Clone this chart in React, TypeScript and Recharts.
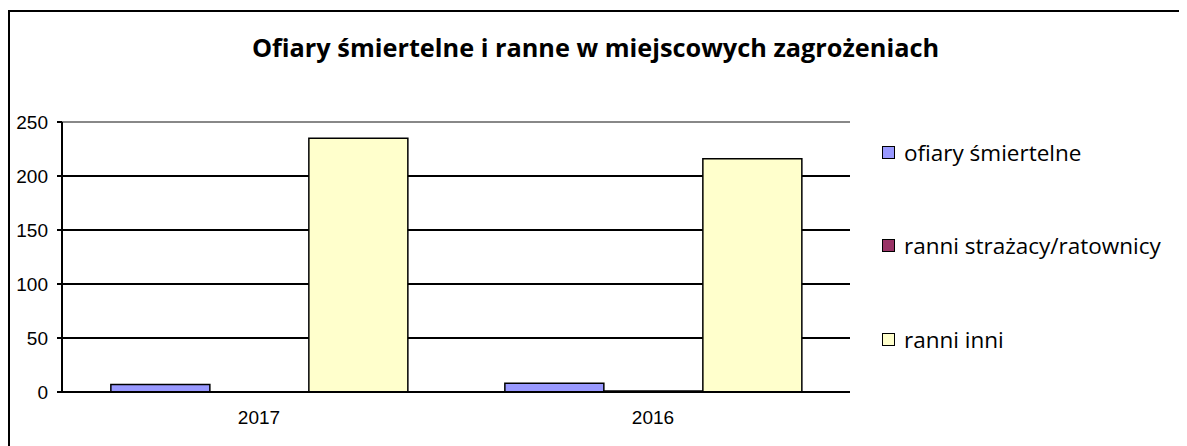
import {
  BarChart,
  Bar,
  XAxis,
  YAxis,
  CartesianGrid,
  ReferenceLine,
} from "recharts";

const years = ["2017", "2016"];
const ofiarySmiertelne = [7, 8];
const ranniStrazacy = [0, 1];
const ranniInni = [235, 216];
const yTicks = [0, 50, 100, 150, 200, 250];

const series = [
  { key: "ofiary", name: "ofiary śmiertelne", color: "#9999FF" },
  { key: "strazacy", name: "ranni strażacy/ratownicy", color: "#993366" },
  { key: "inni", name: "ranni inni", color: "#FFFFCC" },
];

const data = years.map((year, i) => ({
  year,
  ofiary: ofiarySmiertelne[i],
  strazacy: ranniStrazacy[i],
  inni: ranniInni[i],
}));

const textFont = "'Open Sans', sans-serif";
const axisFont = "'Liberation Sans', Arial, sans-serif";

const App = () => {
  return (
    <div
      style={{
        position: "relative",
        top: 2,
        width: 1171,
        height: 436,
        borderTop: "2px solid #000",
        borderLeft: "2px solid #000",
        borderRight: "2px solid #000",
        background: "#fff",
      }}
    >
      <div
        style={{
          position: "absolute",
          left: 0,
          top: 20,
          width: 1171,
          textAlign: "center",
          fontFamily: textFont,
          fontWeight: 700,
          fontSize: 25.3,
          lineHeight: "30px",
          color: "#000",
        }}
      >
        Ofiary śmiertelne i ranne w miejscowych zagrożeniach
      </div>
      {/* legend kept outside the chart so it does not shrink the plot */}
      <div style={{ position: "absolute", left: 872, top: 126 }}>
        {series.map((s, index) => (
          <div
            key={`legend-${index}`}
            style={{
              display: "flex",
              alignItems: "center",
              height: 28,
              marginBottom: 65.5,
            }}
          >
            <span
              style={{
                display: "inline-block",
                width: 11,
                height: 11,
                border: "1.5px solid #000",
                background: s.color,
                marginRight: 9,
              }}
            />
            <span style={{ fontFamily: textFont, fontSize: 22.5, color: "#000" }}>
              {s.name}
            </span>
          </div>
        ))}
      </div>
      <BarChart
        width={1169}
        height={434}
        data={data}
        barGap={0}
        barCategoryGap="12.4%"
        margin={{ top: 110, right: 329, left: 0, bottom: 24 }}
      >
        <CartesianGrid
          vertical={false}
          stroke="#000"
          strokeWidth={2}
          horizontalValues={[0, 50, 100, 150, 200]}
        />
        <ReferenceLine y={250} stroke="#888" strokeWidth={2} />
        <XAxis
          xAxisId="edge"
          type="number"
          domain={[0, 2]}
          ticks={[0, 1, 2]}
          tick={false}
          axisLine={false}
          tickLine={{ stroke: "#000", strokeWidth: 2 }}
          tickSize={6}
          height={0}
        />
        <XAxis
          dataKey="year"
          tickLine={false}
          axisLine={{ stroke: "#000", strokeWidth: 2 }}
          tickSize={0}
          tickMargin={19}
          height={30}
          tick={{ fill: "#000", fontSize: 19, fontFamily: axisFont }}
        />
        <YAxis
          domain={[0, 250]}
          ticks={yTicks}
          width={52}
          tickSize={5}
          tickMargin={9}
          axisLine={{ stroke: "#000", strokeWidth: 2 }}
          tickLine={{ stroke: "#000", strokeWidth: 2 }}
          tick={{ fill: "#000", fontSize: 19, fontFamily: axisFont }}
        />
        <YAxis
          yAxisId="frame"
          orientation="right"
          width={0}
          tick={false}
          tickLine={false}
          axisLine={{ stroke: "#888", strokeWidth: 2 }}
        />
        {series.map((s) => (
          <Bar
            key={s.key}
            dataKey={s.key}
            name={s.name}
            fill={s.color}
            stroke="#000"
            strokeWidth={1.5}
            isAnimationActive={false}
          />
        ))}
      </BarChart>
    </div>
  );
};

export default App;
